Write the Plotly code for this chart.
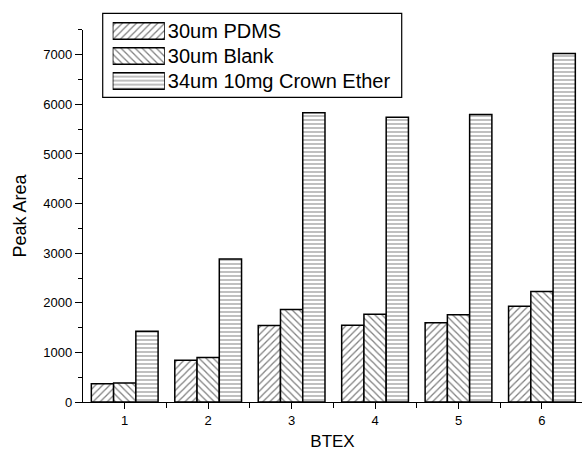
import plotly.graph_objects as go

# BTEX compounds (1..6) and peak areas per fiber coating
btex = [1, 2, 3, 4, 5, 6]
pdms_30um = [370, 840, 1540, 1545, 1600, 1930]
blank_30um = [385, 895, 1865, 1770, 1760, 2230]
crown_34um = [1425, 2885, 5830, 5740, 5795, 7025]

series_names = ["30um PDMS", "30um Blank", "34um 10mg Crown Ether"]
series_values = [pdms_30um, blank_30um, crown_34um]
hatches = ["/", "\\", "-"]


def hatch_marker(shape):
    return dict(
        color="white",
        line=dict(color="black", width=1.5),
        pattern=dict(shape=shape, fgcolor="black", bgcolor="white",
                     size=5 if shape != "-" else 4, solidity=0.25),
    )


fig = go.Figure()
for name, vals, shape in zip(series_names, series_values, hatches):
    fig.add_trace(go.Bar(x=btex, y=vals, name=name, showlegend=False,
                         marker=hatch_marker(shape)))

# Legend keys: wide hatched swatches drawn on a small inset axis pair
for name, shape in zip(series_names, hatches):
    fig.add_trace(go.Bar(
        x=[1], y=[name], orientation="h", width=0.66,
        xaxis="x2", yaxis="y2", showlegend=False, hoverinfo="skip",
        marker=hatch_marker(shape),
    ))

font = "Liberation Sans, Arial, sans-serif"
fig.update_layout(
    width=582, height=457,
    margin=dict(l=83, r=0, t=10, b=55),
    paper_bgcolor="white", plot_bgcolor="white",
    barmode="group", bargap=0.2, bargroupgap=0,
    font=dict(family=font, color="black", size=13),
    xaxis=dict(
        range=[0.5, 6.48], tickmode="array", tickvals=btex,
        showline=True, linecolor="black", linewidth=1.3,
        ticks="outside", ticklen=6, tickwidth=1.3, tickcolor="black",
        minor=dict(tickvals=[1.5, 2.5, 3.5, 4.5, 5.5], ticks="outside",
                   ticklen=5, tickwidth=1.3, tickcolor="black"),
        showgrid=False, zeroline=False,
        title=dict(text="BTEX", font=dict(size=17), standoff=8),
        tickfont=dict(size=13),
    ),
    yaxis=dict(
        domain=[0, 0.949],
        range=[0, 7500], tickmode="linear", tick0=0, dtick=1000,
        showline=True, linecolor="black", linewidth=1.3,
        ticks="outside", ticklen=7, tickwidth=1.3, tickcolor="black",
        minor=dict(dtick=500, ticks="outside", ticklen=4, tickwidth=1.3,
                   tickcolor="black"),
        showgrid=False, zeroline=False,
        title=dict(text="Peak Area", font=dict(size=18), standoff=12),
        tickfont=dict(size=13),
    ),
    xaxis2=dict(
        domain=[0.0595, 0.164], anchor="y2", range=[0, 1],
        visible=False, fixedrange=True,
    ),
    yaxis2=dict(
        domain=[0.787, 0.978], anchor="x2", side="right",
        categoryorder="array", categoryarray=series_names[::-1],
        showline=False, showgrid=False, zeroline=False, ticks="",
        ticklabelstandoff=2, tickfont=dict(size=20), fixedrange=True,
    ),
    shapes=[dict(
        type="rect", xref="paper", yref="paper",
        x0=0.0395, x1=0.6387, y0=0.7773, y1=0.9916,
        line=dict(color="black", width=1.2), fillcolor="rgba(0,0,0,0)",
        layer="below",
    )],
)

fig.write_html("out.html")
